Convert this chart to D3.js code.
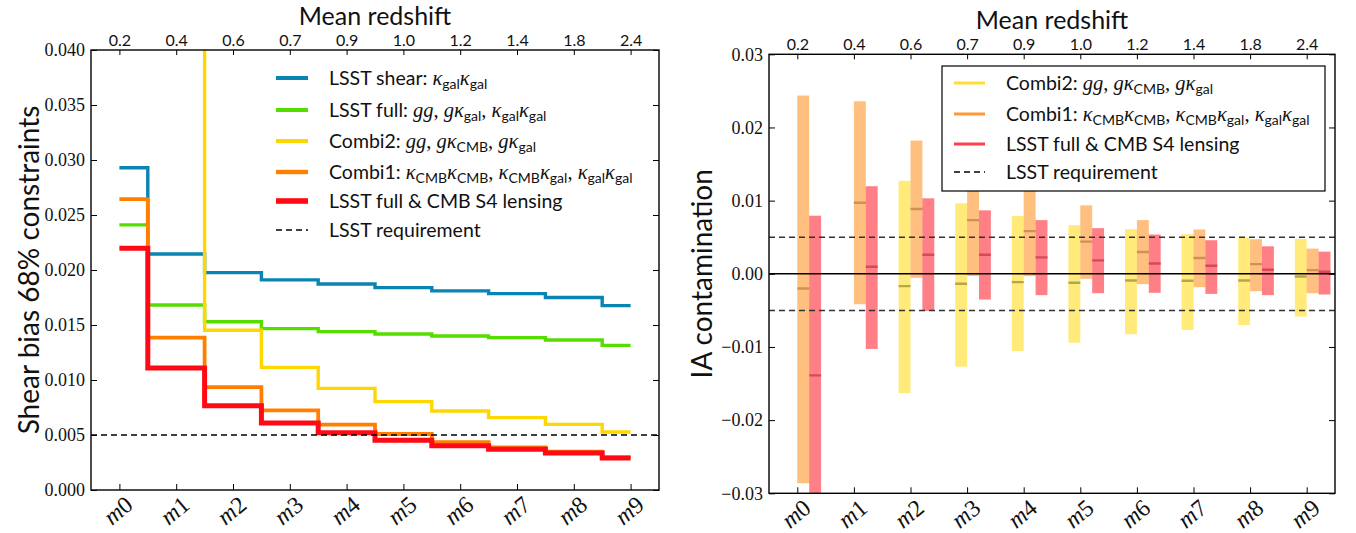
<!DOCTYPE html>
<html><head><meta charset="utf-8">
<script src="https://cdn.jsdelivr.net/npm/d3@7"></script>
<style>body{margin:0;background:#fff} svg{display:block}</style>
</head><body>
<svg id="chart" width="1356" height="533"></svg>
<script>
// ---- data ----
const categories = ["0","1","2","3","4","5","6","7","8","9"];
const meanRedshift = ["0.2","0.4","0.6","0.7","0.9","1.0","1.2","1.4","1.8","2.4"];
const shearTicks = [0,0.005,0.01,0.015,0.02,0.025,0.03,0.035,0.04];
const iaTicks = [-0.03,-0.02,-0.01,0,0.01,0.02,0.03];

// 68% constraints on shear bias per tomographic bin
const lsstShear = [0.0293,0.02145,0.01976,0.0191,0.01873,0.0184,0.0181,0.01785,0.0175,0.01676];
const lsstFull  = [0.0241,0.01682,0.0153,0.01467,0.0144,0.01418,0.0140,0.01385,0.01364,0.01315];
const combi2    = [0.085,0.052,0.01452,0.01115,0.00924,0.00803,0.00718,0.00658,0.00597,0.00527];
const combi1    = [0.02645,0.01385,0.00936,0.00724,0.00594,0.00509,0.00436,0.00388,0.00348,0.00297];
const lsstCmbS4 = [0.02197,0.01109,0.00767,0.00609,0.00521,0.00452,0.00403,0.0037,0.00336,0.00291];
const lsstRequirement = 0.005;

// IA contamination: low / high / median per bin
const combi2Low  = [null,null,-0.0163,-0.01269,-0.01055,-0.00941,-0.00826,-0.00767,-0.00699,-0.00584];
const combi2High = [null,null,0.01271,0.00963,0.00789,0.00665,0.0061,0.00541,0.00491,0.00477];
const combi2Mid  = [null,null,-0.00169,-0.00137,-0.00114,-0.00123,-0.00091,-0.00096,-0.00091,-0.00037];
const combi1Low  = [-0.02863,-0.00416,-0.00055,-0.0003,-0.00032,-0.00068,-0.00142,-0.00183,-0.00237,-0.00265];
const combi1High = [0.02436,0.02358,0.01821,0.0145,0.0122,0.00936,0.00734,0.00606,0.00472,0.00344];
const combi1Mid  = [-0.00201,0.00972,0.00885,0.00734,0.00583,0.0044,0.00298,0.00216,0.00132,0.0005];
const fullLow    = [-0.031,-0.01027,-0.00507,-0.00352,-0.00292,-0.00265,-0.0026,-0.00274,-0.00292,-0.00283];
const fullHigh   = [0.00794,0.01197,0.01032,0.00867,0.00734,0.00624,0.00537,0.00459,0.00376,0.00303];
const fullMid    = [-0.01388,0.00096,0.00261,0.00261,0.00225,0.00183,0.0014,0.0011,0.00055,0.00027];

// ---- styling ----
const SANS = "Lato, 'Open Sans', sans-serif";
const SERIF = "'Liberation Serif', 'DejaVu Serif', serif";
const C = {blue:"#0a84b2", green:"#55dd00", yellow:"#ffd700", orange:"#ff8000", red:"#ff0a14"};
const LEG = 19.5;

const svg = d3.select("#chart");
const idx = d3.range(categories.length);

function panel(box, yDomain, clipId) {
  const x = d3.scaleLinear().domain([-0.5, 9.5]).range([box.x0, box.x1]);
  const y = d3.scaleLinear().domain(yDomain).range([box.y1, box.y0]);
  svg.append("clipPath").attr("id", clipId).append("rect")
    .attr("x", box.x0).attr("y", box.y0).attr("width", box.x1 - box.x0).attr("height", box.y1 - box.y0);
  const g = svg.append("g");
  return {x, y, g, box};
}

function axes(p, yTicks, yFmt, title, yLabel, yLabelX) {
  const {x, y, box} = p;
  const ax = svg.append("g");
  const left = ax.append("g").attr("transform", `translate(${box.x0},0)`)
    .call(d3.axisLeft(y).tickValues(yTicks).tickFormat(yFmt).tickSize(-6).tickSizeOuter(0).tickPadding(6));
  left.selectAll("text").attr("font-family", SERIF).attr("font-size", 18).attr("fill", "#111");
  ax.append("g").attr("transform", `translate(${box.x1},0)`)
    .call(d3.axisRight(y).tickValues(yTicks).tickFormat("").tickSize(-6).tickSizeOuter(0));
  const top = ax.append("g").attr("transform", `translate(0,${box.y0})`)
    .call(d3.axisTop(x).tickValues(idx).tickFormat(i => meanRedshift[i]).tickSize(-5).tickSizeOuter(0).tickPadding(4));
  top.selectAll("text").attr("font-family", SANS).attr("font-size", 16).attr("fill", "#111");
  ax.append("g").attr("transform", `translate(0,${box.y1})`)
    .call(d3.axisBottom(x).tickValues(idx).tickFormat("").tickSize(-6).tickSizeOuter(0));
  ax.selectAll(".domain").remove();
  ax.selectAll(".tick line").attr("stroke", "#000").attr("stroke-width", 1);
  // rotated bin labels
  const lab = ax.append("g");
  idx.forEach(i => {
    const t = lab.append("text")
      .attr("transform", `translate(${x(i)},${box.y1 + 22}) rotate(-40)`)
      .attr("text-anchor", "middle").attr("dominant-baseline", "middle")
      .attr("font-family", SERIF).attr("font-size", 24).attr("fill", "#111");
    t.append("tspan").attr("font-style", "italic").text("m");
    t.append("tspan").text(categories[i]);
  });
  ax.append("rect").attr("x", box.x0).attr("y", box.y0)
    .attr("width", box.x1 - box.x0).attr("height", box.y1 - box.y0)
    .attr("fill", "none").attr("stroke", "#000").attr("stroke-width", 1.4);
  svg.append("text").attr("x", (box.x0 + box.x1) / 2).attr("y", box.y0 - 25)
    .attr("text-anchor", "middle").attr("font-family", SANS).attr("font-size", 25).attr("fill", "#111").text(title);
  svg.append("text").attr("transform", `translate(${yLabelX},${(box.y0 + box.y1) / 2}) rotate(-90)`)
    .attr("text-anchor", "middle").attr("dominant-baseline", "middle")
    .attr("font-family", SANS).attr("font-size", 28).attr("fill", "#111").text(yLabel);
}

// rich legend label: parts of [text, kind]
function richText(sel, parts, size) {
  let shifted = false;
  parts.forEach(([t, kind]) => {
    const ts = sel.append("tspan").text(t);
    if (kind === "mi") ts.attr("font-family", SERIF).attr("font-style", "italic").attr("font-size", size + 1);
    else if (kind === "rm") ts.attr("font-family", SERIF).attr("font-size", size + 1);
    else if (kind === "sub") ts.attr("font-family", SANS).attr("font-size", size * 0.72);
    else ts.attr("font-family", SANS).attr("font-size", size);
    if (kind === "sub" && !shifted) { ts.attr("dy", 4); shifted = true; }
    else if (kind !== "sub" && shifted) { ts.attr("dy", -4); shifted = false; }
  });
}
const kg = [["κ","mi"],["gal","sub"]];
const kc = [["κ","mi"],["CMB","sub"]];
const cm = [[", ","rm"]];
const labShear = [["LSST shear:  ","sans"], ...kg, ...kg];
const labFull = [["LSST full:  ","sans"], ["gg","mi"], ...cm, ["g","mi"], ...kg, ...cm, ...kg, ...kg];
const labCombi2 = [["Combi2:  ","sans"], ["gg","mi"], ...cm, ["g","mi"], ...kc, ...cm, ["g","mi"], ...kg];
const labCombi1 = [["Combi1:  ","sans"], ...kc, ...kc, ...cm, ...kc, ...kg, ...cm, ...kg, ...kg];
const labS4 = [["LSST full & CMB S4 lensing","sans"]];
const labReq = [["LSST requirement","sans"]];

// ================= left: shear bias constraints =================
const L = panel({x0:91, x1:659, y0:50, y1:490}, [0, 0.04], "clipL");
const step = d3.line().x((d, i) => L.x(i)).y(d => L.y(d)).curve(d3.curveStep);
const leftSeries = [
  {v: lsstShear, c: C.blue, w: 3.4, lab: labShear},
  {v: lsstFull, c: C.green, w: 3.4, lab: labFull},
  {v: combi2, c: C.yellow, w: 3.4, lab: labCombi2},
  {v: combi1, c: C.orange, w: 3.8, lab: labCombi1},
  {v: lsstCmbS4, c: C.red, w: 5, lab: labS4}
];
const lines = L.g.append("g").attr("clip-path", "url(#clipL)");
leftSeries.forEach(s => {
  lines.append("path").attr("d", step(s.v)).attr("fill", "none")
    .attr("stroke", s.c).attr("stroke-width", s.w).attr("stroke-linejoin", "miter");
});
lines.append("line").attr("x1", L.box.x0).attr("x2", L.box.x1)
  .attr("y1", L.y(lsstRequirement)).attr("y2", L.y(lsstRequirement))
  .attr("stroke", "#000").attr("stroke-width", 1.5).attr("stroke-dasharray", "6,4");
axes(L, shearTicks, d3.format(".3f"), "Mean redshift", "Shear bias 68% constraints", 32);

const legL = svg.append("g");
const legLY = [78, 110, 141, 172, 201, 230];
leftSeries.concat([{c: "#000", w: 1.5, dash: "6,4", lab: labReq}]).forEach((s, k) => {
  legL.append("line").attr("x1", 276).attr("x2", 308).attr("y1", legLY[k]).attr("y2", legLY[k])
    .attr("stroke", s.c).attr("stroke-width", s.dash ? 1.5 : s.w + 0.6).attr("stroke-dasharray", s.dash || null);
  const t = legL.append("text").attr("x", 329).attr("y", legLY[k] + 7).attr("fill", "#111");
  richText(t, s.lab, LEG);
});

// ================= right: IA contamination =================
const R = panel({x0:769, x1:1335, y0:54.3, y1:493.3}, [-0.03, 0.03], "clipR");
const bw = 0.21;
const barSeries = [
  {lo: combi2Low, hi: combi2High, mid: combi2Mid, off: -bw, fill: "rgba(255,215,0,0.52)", med: "#b7a648"},
  {lo: combi1Low, hi: combi1High, mid: combi1Mid, off: 0, fill: "rgba(255,128,0,0.5)", med: "#d0905a"},
  {lo: fullLow, hi: fullHigh, mid: fullMid, off: bw, fill: "rgba(255,0,16,0.5)", med: "#d9485a"}
];
const bars = R.g.append("g").attr("clip-path", "url(#clipR)");
barSeries.forEach(s => {
  const pts = idx.filter(i => s.lo[i] !== null);
  bars.selectAll(null).data(pts).enter().append("rect")
    .attr("x", i => R.x(i + s.off)).attr("width", i => R.x(i + s.off + bw) - R.x(i + s.off))
    .attr("y", i => R.y(s.hi[i])).attr("height", i => R.y(s.lo[i]) - R.y(s.hi[i]))
    .attr("fill", s.fill);
  bars.selectAll(null).data(pts).enter().append("line")
    .attr("x1", i => R.x(i + s.off)).attr("x2", i => R.x(i + s.off + bw))
    .attr("y1", i => R.y(s.mid[i])).attr("y2", i => R.y(s.mid[i]))
    .attr("stroke", s.med).attr("stroke-width", 2.4);
});
bars.append("line").attr("x1", R.box.x0).attr("x2", R.box.x1).attr("y1", R.y(0)).attr("y2", R.y(0))
  .attr("stroke", "#000").attr("stroke-width", 1.4);
[lsstRequirement, -lsstRequirement].forEach(v => {
  bars.append("line").attr("x1", R.box.x0).attr("x2", R.box.x1).attr("y1", R.y(v)).attr("y2", R.y(v))
    .attr("stroke", "#333").attr("stroke-width", 1.5).attr("stroke-dasharray", "6,4");
});
axes(R, iaTicks, d3.format(".2f"), "Mean redshift", "IA contamination", 705);

const legR = svg.append("g");
legR.append("rect").attr("x", 942).attr("y", 66).attr("width", 383).attr("height", 125)
  .attr("fill", "#fff").attr("stroke", "#000").attr("stroke-width", 1.2);
const legRY = [83, 114, 144, 172];
[
  {c: "rgba(255,215,0,0.8)", lab: labCombi2},
  {c: "rgba(255,128,0,0.8)", lab: labCombi1},
  {c: "rgba(255,0,16,0.75)", lab: labS4},
  {c: "#000", dash: "6,4", lab: labReq}
].forEach((s, k) => {
  legR.append("line").attr("x1", 954).attr("x2", 985).attr("y1", legRY[k]).attr("y2", legRY[k])
    .attr("stroke", s.c).attr("stroke-width", s.dash ? 1.5 : 3).attr("stroke-dasharray", s.dash || null);
  const t = legR.append("text").attr("x", 1006).attr("y", legRY[k] + 7).attr("fill", "#111");
  richText(t, s.lab, LEG);
});
</script>
</body></html>
